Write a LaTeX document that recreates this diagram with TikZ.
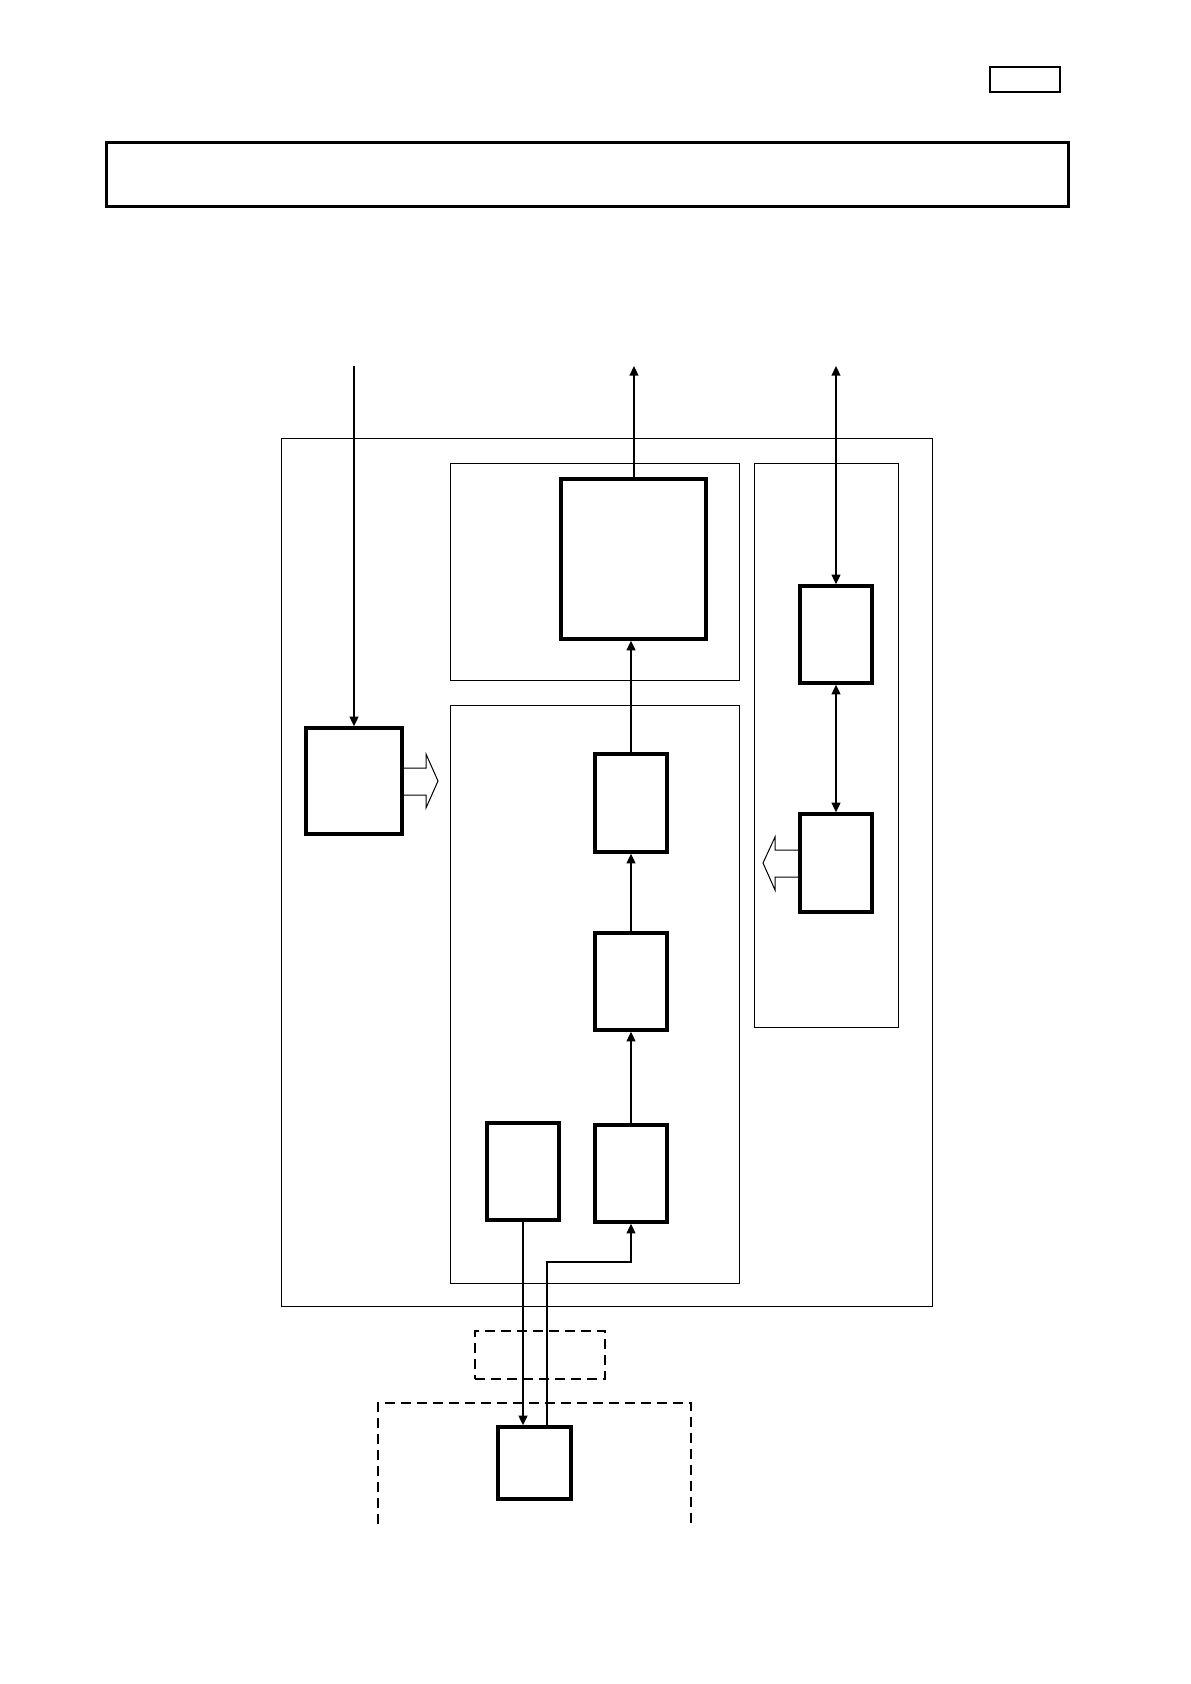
\documentclass[tikz,border=0pt]{standalone}
\usetikzlibrary{fit,arrows.meta}
\begin{document}
\begin{tikzpicture}[x=0.5pt,y=-0.5pt,
  thinbox/.style={draw,line width=0.5pt,inner sep=0pt},
  thickbox/.style={draw,line width=1.7pt,inner sep=0pt},
  dashbox/.style={draw,line width=0.6pt,dash pattern=on 5pt off 3pt},
  conn/.style={line width=0.75pt,-{Triangle[length=4.8pt,width=4.4pt]}},
  conn2/.style={line width=0.75pt,{Triangle[length=4.8pt,width=4.4pt]}-{Triangle[length=4.8pt,width=4.4pt]}},
  hollow/.style={draw,line width=0.5pt}]
\useasboundingbox (0,0) rectangle (1190,1684);
% hollow arrows (drawn first so the block borders stay on top)
\draw[hollow] (402,768) -- (426,768) -- (426,754) -- (438,781) -- (426,808) -- (426,795) -- (402,795);
\draw[hollow] (800,850) -- (775,850) -- (775,837) -- (763,863) -- (775,890) -- (775,877) -- (800,877);
% header boxes
\node[draw,line width=0.7pt,inner sep=0pt,fit={(990,67) (1060,92)}] (tag) {};
\node[draw,line width=1.5pt,inner sep=0pt,fit={(106,143) (1068,207)}] (title) {};
% containers
\node[thinbox,fit={(281,439) (932,1306)}] (outer) {};
\node[thinbox,fit={(450,463) (739,680)}] (topmid) {};
\node[thinbox,fit={(754,463) (898,1027)}] (right) {};
\node[thinbox,fit={(450,705) (739,1283)}] (lowmid) {};
% thick blocks
\node[thickbox,fit={(561,479) (706,639)}] (big) {};
\node[thickbox,fit={(800,586) (872,683)}] (rt) {};
\node[thickbox,fit={(800,814) (872,912)}] (rb) {};
\node[thickbox,fit={(306,728) (402,834)}] (lb) {};
\node[thickbox,fit={(595,754) (667,852)}] (A) {};
\node[thickbox,fit={(595,933) (667,1030)}] (B) {};
\node[thickbox,fit={(595,1125) (667,1222)}] (C) {};
\node[thickbox,fit={(487,1123) (559,1220)}] (D) {};
\node[thickbox,fit={(498,1427) (571,1499)}] (E) {};
% dashed
\node[dashbox,inner sep=0pt,fit={(475,1331) (605,1379)}] (db) {};
\draw[dashbox] (378,1524) -- (378,1403) -- (691,1403) -- (691,1524);
% free ends
\coordinate (inL) at (354,366);
\coordinate (outM) at (634,366);
\coordinate (outR) at (836,366);
\coordinate (j) at (547,1262);
% connectors
\draw[conn] (inL) -- (lb.north);
\draw[conn] (big.north -| outM) -- (outM);
\draw[conn2] (outR) -- (outR |- rt.north);
\draw[conn2] (rt.south) -- (rb.north);
\draw[conn] (A.north) -- (A.north |- big.south);
\draw[conn] (B.north) -- (A.south);
\draw[conn] (C.north) -- (B.south);
\draw[conn] (D.south) -- (D.south |- E.north);
\draw[conn] (j |- E.north) -- (j) -| (C.south);
\end{tikzpicture}
\end{document}
